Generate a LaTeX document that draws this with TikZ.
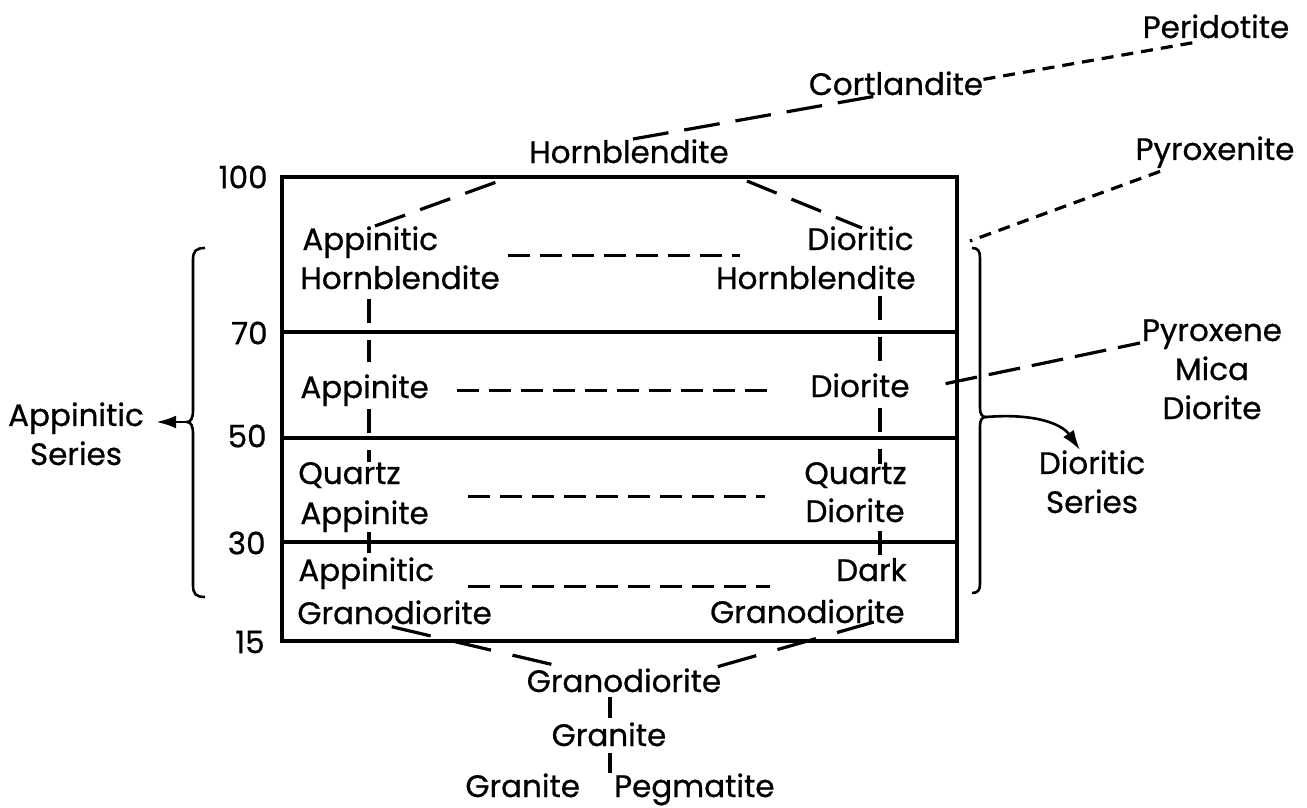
\documentclass[tikz,border=0pt]{standalone}
\usepackage{fontspec}
\setmainfont{Poppins}[FakeBold=0.7]
\usetikzlibrary{arrows.meta,calc}
\begin{document}
\begin{tikzpicture}[x=0.5pt,y=-0.5pt,
  lbl/.style={inner sep=0pt, font=\fontsize{15.5pt}{19.5pt}\selectfont},
  box/.style={line width=1.6pt},
  longdash/.style={line width=1.6pt, dash pattern=on 18pt off 8pt},
  shortdash/.style={line width=1.6pt, dash pattern=on 6pt off 4pt},
  slantdash/.style={line width=1.6pt, dash pattern=on 16pt off 8pt},
  rowdash/.style={line width=1.5pt, dash pattern=on 11pt off 5pt},
  vdash/.style={line width=1.6pt, dash pattern=on 12pt off 8.5pt},
  botdash/.style={line width=1.6pt, dash pattern=on 20pt off 11pt},
  pyrdash/.style={line width=1.6pt, dash pattern=on 16pt off 6pt},
  solidln/.style={line width=1.6pt},
  bracestyle/.style={line width=1.3pt},
  arrowln/.style={line width=1.3pt, -{Latex[length=10pt,width=6.5pt]}}
]
\useasboundingbox (0,0) rectangle (1307,808);

% box
\draw[box] (282,177) rectangle (957,641);
\draw[box] (282,332) -- (957,332);
\draw[box] (282,438) -- (957,438);
\draw[box] (282,542) -- (957,542);

% scale numbers
\node[lbl, anchor=east] (n100) at (268,177) {100};
\node[lbl, anchor=east] (n70) at (268,333) {70};
\node[lbl, anchor=east] (n50) at (267,436) {50};
\node[lbl, anchor=east] (n30) at (266,543) {30};
\node[lbl, anchor=east] (n15) at (265,642) {15};

% top labels
\node[lbl, anchor=base] (peri) at (1216,38) {Peridotite};
\node[lbl, anchor=base] (cort) at (896,95) {Cortlandite};
\node[lbl, anchor=base] (hbl) at (629,163) {Hornblendite};
\node[lbl, anchor=base] (pyr) at (1215,160) {Pyroxenite};

% inner labels
\node[lbl, anchor=base west] (ah1) at (302,250) {Appinitic};
\node[lbl, anchor=base west] (ah2) at (300,289) {Hornblendite};
\node[lbl, anchor=base east] (dh1) at (914,250) {Dioritic};
\node[lbl, anchor=base east] (dh2) at (916,289) {Hornblendite};
\node[lbl, anchor=base west] (ap) at (300,398) {Appinite};
\node[lbl, anchor=base east] (dio) at (910,397) {Diorite};
\node[lbl, anchor=base west] (qa1) at (298,484) {Quartz};
\node[lbl, anchor=base west] (qa2) at (300,524) {Appinite};
\node[lbl, anchor=base east] (qd1) at (907,484) {Quartz};
\node[lbl, anchor=base east] (qd2) at (905,522) {Diorite};
\node[lbl, anchor=base west] (ag1) at (298,581) {Appinitic};
\node[lbl, anchor=base west] (ag2) at (297,624) {Granodiorite};
\node[lbl, anchor=base east] (dg1) at (907,581) {Dark};
\node[lbl, anchor=base east] (dg2) at (905,623) {Granodiorite};

% bottom labels
\node[lbl, anchor=base] (gd) at (624,692) {Granodiorite};
\node[lbl, anchor=base] (gr) at (609,746) {Granite};
\node[lbl, anchor=base] (gp) at (620,797) {Granite\hspace{1.1em}Pegmatite};

% outer labels
\node[lbl, anchor=north, align=center] (as) at (76,402) {Appinitic\\Series};
\node[lbl, anchor=north, align=center] (ds) at (1092,450) {Dioritic\\Series};
\node[lbl, anchor=north, align=center] (pmd) at (1212,319) {Pyroxene\\Mica\\Diorite};

% helper coordinates
\coordinate (xL) at (369,0);
\coordinate (xR) at (880,0);
\coordinate (xH) at (633,0);
\coordinate (xC) at (882,0);
\coordinate (xP) at (1197,0);
\coordinate (xPy) at (1160,0);
\coordinate (xA) at (375,0);
\coordinate (xD) at (862,0);
\coordinate (xG) at (610,0);
\coordinate (xg1) at (383,0);
\coordinate (xg2) at (567,0);
\coordinate (xg3) at (713,0);
\coordinate (xg4) at (868,0);
\coordinate (xar) at (1080,0);
\coordinate (t1) at (502,180);
\coordinate (t2) at (747,181);
\coordinate (pyrend) at (970,241);
\coordinate (pmdin) at (1140,343);
\coordinate (r1a) at (508,255);
\coordinate (r1b) at (740,255);
\coordinate (r3a) at (468,496);
\coordinate (r3b) at (765,496);
\coordinate (r4a) at (468,586);
\coordinate (r4b) at (770,586);
\coordinate (lbt) at (187,422);
\coordinate (rbt) at (986,417);

% outer dashed connectors
\draw[longdash] (hbl.north -| xH) -- (cort.base -| xC);
\draw[shortdash] (cort.east) ++(0,-4) -- ($(peri.base -| xP)+(0,4)$);
\draw[shortdash] ($(pyr.south -| xPy)+(0,3)$) -- (pyrend);
\draw[pyrdash, shorten <=9pt] (dio.east) ++(18,2) -- (pmdin);

% top diagonals inside box
\draw[slantdash] (ah1.north -| xA) -- (t1);
\draw[slantdash] (t2) -- ($(dh1.north -| xD)+(0,2)$);

% row dashes
\draw[rowdash] (r1a) -- (r1b);
\draw[rowdash, shorten <=14pt, shorten >=19pt] (ap.east) -- (ap.east -| dio.west);
\draw[rowdash] (r3a) -- (r3b);
\draw[rowdash] (r4a) -- (r4b);

% vertical dashes
\draw[vdash, shorten <=4.5pt, shorten >=6pt] (ah2.south -| xL) -- (ap.north -| xL);
\draw[vdash, shorten <=1.5pt] (ap.south -| xL) -- (qa1.north -| xL);
\draw[vdash, shorten >=2pt] (qa2.south -| xL) -- (ag1.north -| xL);
\draw[vdash, shorten <=3pt] (dh2.south -| xR) -- (dio.north -| xR);
\draw[vdash, shorten <=5pt, shorten >=-1pt] (dio.south -| xR) -- (qd1.north -| xR);
\draw[vdash, shorten <=4pt] (qd2.south -| xR) -- (dg1.north -| xR);

% bottom
\draw[botdash, shorten <=4.5pt] (ag2.south -| xg1) -- (gd.north -| xg2);
\draw[botdash, shorten <=2.5pt, shorten >=-3pt] (gd.north -| xg3) -- (dg2.south -| xg4);
\draw[solidln, shorten <=2pt, shorten >=2pt] (gd.south -| xG) -- (gr.north -| xG);
\draw[solidln, shorten <=3pt] (gr.south -| xG) -- (gp.north -| xG);

% braces
\draw[bracestyle] (205,248) .. controls (196,248) and (193,251) .. (193,260) -- (193,410)
  .. controls (193,418) and (191,422) .. (lbt) .. controls (191,422) and (193,426) .. (193,434)
  -- (193,585) .. controls (193,594) and (196,597) .. (205,597);
\draw[bracestyle] (972,248) .. controls (978,248) and (980,251) .. (980,258) -- (980,408)
  .. controls (980,414) and (982,417) .. (rbt) .. controls (982,417) and (980,420) .. (980,426)
  -- (980,584) .. controls (980,590) and (978,593) .. (972,593);

% series arrows
\draw[arrowln, shorten >=6pt] (lbt) -- (as.east |- lbt);
\draw[arrowln] (rbt) .. controls (1035,413) and (1062,424) .. (ds.north -| xar);
\end{tikzpicture}
\end{document}
